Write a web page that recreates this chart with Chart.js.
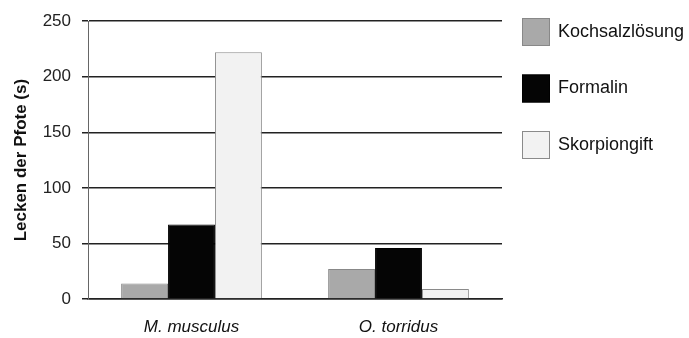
<!DOCTYPE html>
<html>
<head>
<meta charset="utf-8">
<script src="https://cdn.jsdelivr.net/npm/chart.js@4/dist/chart.umd.min.js"></script>
<style>
  html, body { margin: 0; padding: 0; background: #fff; }
  #wrap { width: 689px; height: 338px; }
</style>
</head>
<body>
<div id="wrap"><canvas id="myChart"></canvas></div>
<script>
const species = ['M. musculus', 'O. torridus'];
const kochsalz = [14, 27];
const formalin = [67, 46];
const skorpiongift = [222, 9];
const yTicks = [0, 50, 100, 150, 200, 250];

Chart.defaults.font.family = '"Liberation Sans", Arial, sans-serif';
Chart.defaults.color = '#222';

// legend on the right, drawn by hand so the boxes sit where the original has them
const sideLegend = {
  id: 'sideLegend',
  afterDraw(chart) {
    const c = chart.ctx;
    const left = chart.chartArea.right + 20;
    c.save();
    c.font = '18px "Liberation Sans", Arial, sans-serif';
    c.textBaseline = 'middle';
    chart.data.datasets.forEach((ds, i) => {
      const top = 18 + i * 56.5;
      c.fillStyle = ds.backgroundColor;
      c.fillRect(left, top, 28, 28);
      c.strokeStyle = ds.borderColor;
      c.lineWidth = 1;
      c.strokeRect(left + 0.5, top + 0.5, 27, 27);
      c.fillStyle = '#111';
      c.fillText(ds.label, left + 36, top + 14);
    });
    c.restore();
  }
};

var ctx = document.getElementById('myChart').getContext('2d');
var myChart = new Chart(ctx, {
  type: 'bar',
  data: {
    labels: species,
    datasets: [
      { label: 'Kochsalzlösung', data: kochsalz, backgroundColor: '#a9a9a9', borderColor: '#888888', borderWidth: 1 },
      { label: 'Formalin', data: formalin, backgroundColor: '#050505', borderColor: '#000000', borderWidth: 1 },
      { label: 'Skorpiongift', data: skorpiongift, backgroundColor: '#f2f2f2', borderColor: '#8a8a8a', borderWidth: 1 }
    ]
  },
  options: {
    responsive: true,
    maintainAspectRatio: false,
    animation: false,
    layout: { padding: { left: 0, top: 15, right: 187, bottom: 0 } },
    datasets: { bar: { categoryPercentage: 0.68, barPercentage: 1.0 } },
    plugins: {
      tooltip: { enabled: false },
      legend: { display: false }
    },
    scales: {
      x: {
        afterFit: (scale) => { scale.height = 39; },
        grid: { display: false, drawTicks: false },
        border: { display: true, color: '#222', width: 1.5 },
        ticks: { font: { size: 17, style: 'italic' }, color: '#111', padding: 18 }
      },
      y: {
        min: 0,
        max: 250,
        afterBuildTicks: (axis) => { axis.ticks = yTicks.map(v => ({ value: v })); },
        afterFit: (scale) => { scale.width = 88; },
        grid: { color: '#222', lineWidth: 1.5, tickLength: 6, drawTicks: true },
        border: { display: true, color: '#666', width: 1 },
        ticks: { font: { size: 17 }, color: '#222', padding: 11 },
        title: { display: true, text: 'Lecken der Pfote (s)', font: { size: 17, weight: 'bold' }, color: '#111', padding: { top: 11, bottom: 10 } }
      }
    }
  },
  plugins: [sideLegend]
});
</script>
</body>
</html>
